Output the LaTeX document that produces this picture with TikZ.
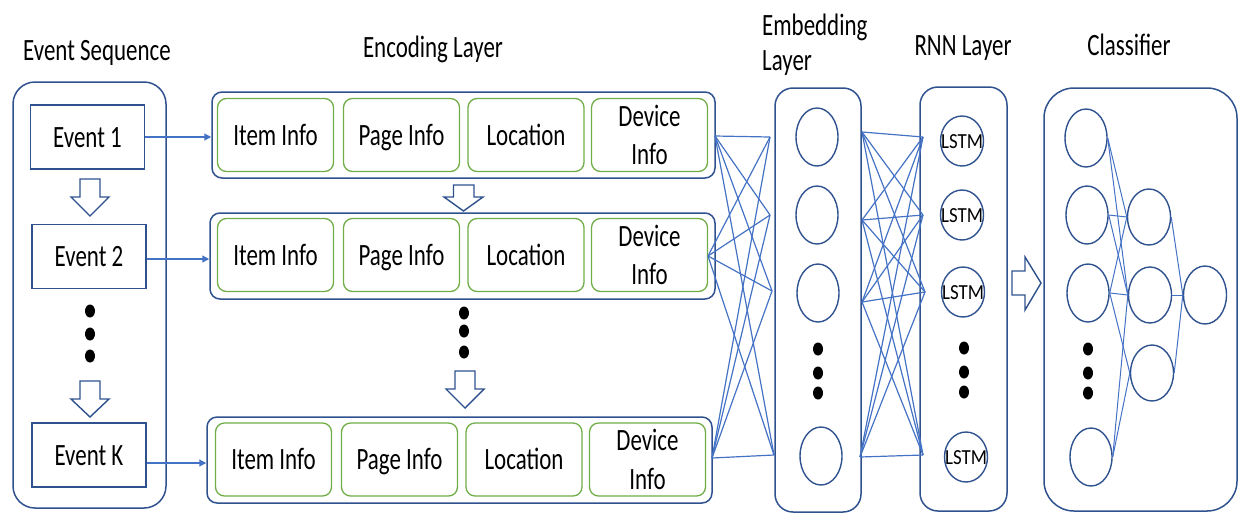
\documentclass[tikz,border=0pt]{standalone}
\usepackage{fontspec}
\setmainfont{Carlito}
\usepackage{graphicx}
\usetikzlibrary{shapes.geometric,arrows.meta}
\definecolor{dkblue}{HTML}{2F528F}
\definecolor{lnblue}{HTML}{4472C4}
\definecolor{grn}{HTML}{70AD47}
\newcommand\sq[1]{\scalebox{0.74}[1]{#1}}
\begin{document}
\begin{tikzpicture}[x=1pt,y=-1pt,
  outer/.style={draw=dkblue,line width=1.5pt,rounded corners=#1,inner sep=0pt},
  outer/.default=10pt,
  evbox/.style={draw=dkblue,line width=1.5pt,fill=white,minimum width=114pt,minimum height=64pt,inner sep=0pt,font=\fontsize{31}{38}\selectfont,text height=20pt,text depth=0pt},
  gb/.style={draw=grn,line width=1.3pt,rounded corners=9pt,minimum width=116pt,minimum height=73pt,inner sep=0pt,font=\fontsize{31}{38.5}\selectfont},
  one/.style={text height=20pt,text depth=0pt},
  ttl/.style={font=\fontsize{31}{38}\selectfont,inner sep=0pt},
  circ/.style={ellipse,draw=dkblue,line width=1.4pt,minimum width=42pt,minimum height=58pt,inner sep=0pt},
  lcirc/.style={ellipse,draw=dkblue,line width=1.4pt,minimum width=43pt,minimum height=50pt,inner sep=0pt},
  ltxt/.style={font=\fontsize{21.5}{24}\selectfont,inner sep=0pt,text height=14pt,text depth=0pt},
  bdot/.style={ellipse,fill=black,minimum width=10pt,minimum height=13pt,inner sep=0pt},
  conn/.style={draw=lnblue,line width=1.2pt},
  harrow/.style={draw=dkblue,line width=1.4pt,fill=white,line join=miter},
  tip/.style={-{Triangle[length=7pt,width=7pt]}}
]
\useasboundingbox (0,0) rectangle (1238,512);

% titles
\node[ttl,anchor=base] (tEv) at (97,60) {\sq{Event Sequence}};
\node[ttl,anchor=base] (tEnc) at (433,57) {\sq{Encoding Layer}};
\node[ttl,anchor=base west] (tEmb1) at (762,35) {\sq{Embedding}};
\node[ttl,anchor=base west] (tEmb2) at (762,70) {\sq{Layer}};
\node[ttl,anchor=base] (tRnn) at (963,55) {\sq{RNN Layer}};
\node[ttl,anchor=base] (tCls) at (1129,55) {\sq{Classifier}};

% event sequence
\node[outer=22pt,minimum width=153pt,minimum height=426pt] (evs) at (89.5,295) {};
\node[evbox] (ev1) at (87.5,137) {\sq{Event 1}};
\node[evbox] (ev2) at (89,256.5) {\sq{Event 2}};
\node[evbox] (evk) at (89,455) {\sq{Event K}};
\draw[harrow] (80,179) -- (100,179) -- (100,197) -- (109,197) -- (90,216) -- (71,197) -- (80,197) -- cycle;
\draw[harrow] (80,381) -- (100,381) -- (100,399) -- (109,399) -- (90,417) -- (71,399) -- (80,399) -- cycle;
\node[bdot] (evd1) at (90,311) {};
\node[bdot] (evd2) at (90,334) {};
\node[bdot] (evd3) at (90,356) {};

% encoding layer
\node[outer=10pt,minimum width=503pt,minimum height=86pt] (enc1) at (463.5,135) {};
\node[outer=10pt,minimum width=505pt,minimum height=86pt] (enc2) at (462.5,256) {};
\node[outer=10pt,minimum width=505pt,minimum height=86pt] (enc3) at (459.5,460) {};
\foreach \r/\y/\dx in {1/135/0,2/255/0,3/459.5/-2}{
  \node[gb,one] (it\r) at (275.5+\dx,\y) {\sq{Item Info}};
  \node[gb,one] (pg\r) at (401.5+\dx,\y) {\sq{Page Info}};
  \node[gb,one] (lo\r) at (526+\dx,\y) {\sq{Location}};
  \node[gb,align=center] (dv\r) at (649.5+\dx,\y) {\sq{Device}\\\sq{Info}};
}
\draw[harrow] (453.5,185) -- (474,185) -- (474,197) -- (483,197) -- (463.5,211) -- (444,197) -- (453.5,197) -- cycle;
\draw[harrow] (455,371) -- (475,371) -- (475,389) -- (484,389) -- (465,408) -- (446,389) -- (455,389) -- cycle;
\node[bdot] (encd1) at (464,313) {};
\node[bdot] (encd2) at (464,331) {};
\node[bdot] (encd3) at (464,352) {};

\draw[conn,tip] (ev1.east) -- (ev1.east -| enc1.west);
\draw[conn,tip] ([yshift=-2.5pt]ev2.east) -- ([yshift=-2.5pt]ev2.east -| enc2.west);
\draw[conn,tip] ([yshift=-8pt]evk.east) -- ([yshift=-8pt]evk.east -| enc3.west);

% embedding layer
\node[outer=18pt,minimum width=86pt,minimum height=424pt] (emb) at (818,300) {};
\node[circ] (e1) at (817,137) {};
\node[circ] (e2) at (817,215) {};
\node[circ] (e3) at (818,293) {};
\node[circ] (e4) at (821,456) {};
\node[bdot] (embd1) at (818,349) {};
\node[bdot] (embd2) at (818,373) {};
\node[bdot] (embd3) at (818,393) {};

% RNN layer
\node[outer=18pt,minimum width=87pt,minimum height=424pt] (rnn) at (963.5,299) {};
\node[lcirc] (r1) at (962,141) {};
\node[lcirc] (r2) at (962,215) {};
\node[lcirc] (r3) at (963,292) {};
\node[lcirc] (r4) at (966,457) {};
\foreach \i in {1,...,4}{\node[ltxt] (r\i t) at (r\i) {\scalebox{0.88}[1]{LSTM}};}
\node[bdot] (rnnd1) at (964,348) {};
\node[bdot] (rnnd2) at (964,372) {};
\node[bdot] (rnnd3) at (964,392) {};

% connection endpoints
\coordinate (a1) at (715,136);
\coordinate (a2) at (708,256);
\coordinate (a3) at (712,458);
\coordinate (b1) at (770,137);
\coordinate (b2) at (770,215);
\coordinate (b3) at (772,291);
\coordinate (b4) at (774,455);
\coordinate (c1) at (862,132);
\coordinate (c2) at (862,220);
\coordinate (c3) at (862,302);
\coordinate (c4) at (860,457);
\coordinate (d1) at (923,137);
\coordinate (d2) at (923,215);
\coordinate (d3) at (925,292);
\coordinate (d4) at (923,455);
\foreach \i in {1,2,3}{\foreach \j in {1,...,4}{\draw[conn] (a\i) -- (b\j);}}
\foreach \i in {1,...,4}{\foreach \j in {1,...,4}{\draw[conn] (c\i) -- (d\j);}}

% arrow to classifier
\draw[harrow] (1012,271) -- (1025,271) -- (1025,257) -- (1041,283) -- (1025,310) -- (1025,295) -- (1012,295) -- cycle;

% classifier
\node[outer=30pt,minimum width=193pt,minimum height=423pt] (cls) at (1140.5,299.5) {};
\node[circ] (k1) at (1086,138) {};
\node[circ] (k2) at (1087,215) {};
\node[circ] (k3) at (1088,293) {};
\node[circ] (k4) at (1091,457) {};
\node[circ,minimum width=43pt,minimum height=56pt] (h1) at (1149,217) {};
\node[circ,minimum width=43pt,minimum height=56pt] (h2) at (1150,295) {};
\node[circ,minimum width=43pt,minimum height=56pt] (h3) at (1152,373) {};
\node[circ,minimum width=43pt] (o1) at (1205,295) {};
\node[bdot] (clsd1) at (1088,349) {};
\node[bdot] (clsd2) at (1088,373) {};
\node[bdot] (clsd3) at (1088,393) {};
\foreach \a/\b in {1/1,1/2,2/1,2/2,3/1,3/2,3/3,4/2,4/3}{\draw[conn,line width=1pt] (k\a.east) -- (h\b.west);}
\foreach \b in {1,2,3}{\draw[conn,line width=1pt] (h\b.east) -- (o1.west);}
\end{tikzpicture}
\end{document}
